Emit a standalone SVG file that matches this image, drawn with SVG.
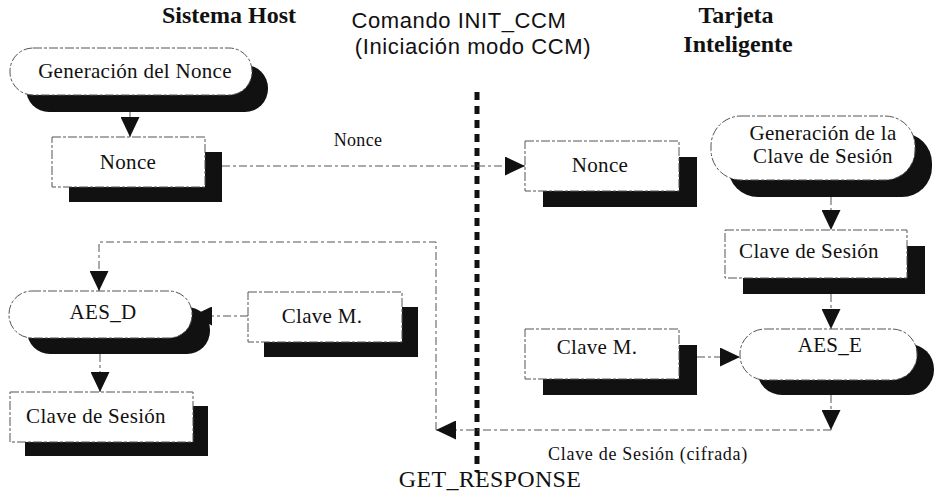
<svg xmlns="http://www.w3.org/2000/svg" width="934" height="492" viewBox="0 0 934 492">
<defs>
<style>
.bx{fill:#fff;stroke:#555;stroke-width:1;stroke-dasharray:9 2 3 2}
.sh{fill:#111}
.t{font-family:"Liberation Serif",serif;font-size:21px;letter-spacing:0.3px;fill:#111;text-anchor:middle}
.ttl{font-family:"Liberation Serif",serif;font-size:24px;font-weight:bold;fill:#111;text-anchor:middle}
.sans{font-family:"Liberation Sans",sans-serif;font-size:22px;letter-spacing:0.6px;fill:#111;text-anchor:middle}
.cn{fill:none;stroke:#555;stroke-width:1;stroke-dasharray:8 3 3 3}
</style>
<marker id="ahb" viewBox="0 0 10 10" refX="10" refY="5" markerWidth="20" markerHeight="19" markerUnits="userSpaceOnUse" orient="auto" preserveAspectRatio="none">
<path d="M0,0 L10,5 L0,10 z" fill="#111"/>
</marker>
</defs>
<rect width="934" height="492" fill="#fff"/>

<g id="titles">
<text class="ttl" x="229" y="23">Sistema Host</text>
<text class="sans" x="459" y="28">Comando INIT_CCM</text>
<text class="sans" x="473" y="54">(Iniciación modo CCM)</text>
<text class="ttl" x="736" y="23">Tarjeta</text>
<text class="ttl" x="738" y="52">Inteligente</text>
<text class="t" x="490" y="487" style="font-size:24px">GET_RESPONSE</text>
</g>

<g id="separator">
<line x1="477" y1="92" x2="477" y2="472" stroke="#111" stroke-width="5" stroke-dasharray="8 6"/>
</g>

<g id="connectors">
<line class="cn" x1="130" y1="112" x2="130" y2="137" marker-end="url(#ahb)"/>
<line class="cn" x1="222" y1="166" x2="525" y2="166" marker-end="url(#ahb)"/>
<text class="t" x="358" y="146" style="font-size:18px">Nonce</text>
<line class="cn" x1="831" y1="197" x2="831" y2="230" marker-end="url(#ahb)"/>
<line class="cn" x1="831" y1="294" x2="831" y2="329" marker-end="url(#ahb)"/>
<line class="cn" x1="697" y1="357" x2="740" y2="357" marker-end="url(#ahb)"/>
<line class="cn" x1="831" y1="395" x2="831" y2="430" marker-end="url(#ahb)"/>
<line class="cn" x1="831" y1="430" x2="436" y2="430" marker-end="url(#ahb)"/>
<text class="t" x="648" y="460" style="font-size:18px;letter-spacing:0.7px">Clave de Sesión (cifrada)</text>
<path class="cn" d="M436,430 V242 H99 V291" marker-end="url(#ahb)"/>
<line class="cn" x1="248" y1="316" x2="192" y2="316" marker-end="url(#ahb)"/>
<line class="cn" x1="100" y1="354" x2="100" y2="392" marker-end="url(#ahb)"/>
</g>

<g id="gen-nonce">
<rect class="sh" x="26" y="65" width="242" height="47" rx="23"/>
<rect class="bx" x="10" y="48" width="242" height="47" rx="23"/>
<text class="t" x="135" y="78">Generación del Nonce</text>
</g>

<g id="nonce-host">
<rect class="sh" x="69" y="152" width="153" height="50"/>
<rect class="bx" x="52" y="137" width="153" height="50"/>
<text class="t" x="128" y="169">Nonce</text>
</g>

<g id="nonce-card">
<rect class="sh" x="543" y="157" width="154" height="50"/>
<rect class="bx" x="525" y="141" width="154" height="50"/>
<text class="t" x="600" y="172">Nonce</text>
</g>

<g id="gen-clave">
<rect class="sh" x="728" y="133" width="204" height="64" rx="30"/>
<rect class="bx" x="711" y="116" width="204" height="64" rx="30"/>
<text class="t" x="823" y="140">Generación de la</text>
<text class="t" x="823" y="163">Clave de Sesión</text>
</g>

<g id="clave-sesion-card">
<rect class="sh" x="743" y="246" width="182" height="48"/>
<rect class="bx" x="725" y="230" width="182" height="48"/>
<text class="t" x="809" y="258">Clave de Sesión</text>
</g>

<g id="clave-m-card">
<rect class="sh" x="543" y="345" width="154" height="50"/>
<rect class="bx" x="525" y="329" width="154" height="50"/>
<text class="t" x="597" y="354">Clave M.</text>
</g>

<g id="aes-e">
<rect class="sh" x="757" y="344" width="177" height="51" rx="25"/>
<rect class="bx" x="740" y="329" width="177" height="51" rx="25"/>
<text class="t" x="830" y="352">AES_E</text>
</g>

<g id="aes-d">
<rect class="sh" x="27" y="307" width="183" height="47" rx="23"/>
<rect class="bx" x="9" y="291" width="183" height="47" rx="23"/>
<text class="t" x="103" y="319">AES_D</text>
</g>

<g id="clave-m-host">
<rect class="sh" x="264" y="307" width="154" height="50"/>
<rect class="bx" x="248" y="292" width="154" height="50"/>
<text class="t" x="322" y="323">Clave M.</text>
</g>

<g id="clave-sesion-host">
<rect class="sh" x="25" y="406" width="183" height="50"/>
<rect class="bx" x="10" y="392" width="183" height="50"/>
<text class="t" x="96" y="423">Clave de Sesión</text>
</g>
</svg>
